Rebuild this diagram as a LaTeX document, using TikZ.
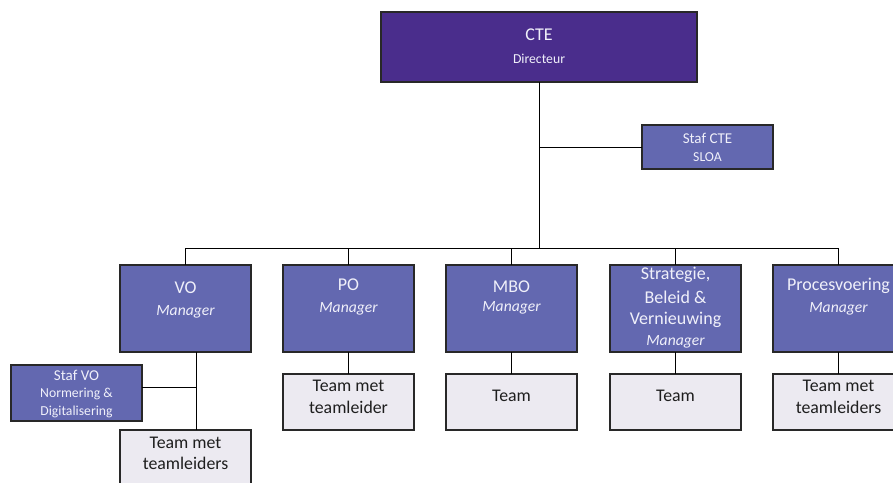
\documentclass[tikz,border=0pt]{standalone}
\usepackage{fontspec}
\setmainfont{Carlito}
\definecolor{ctefill}{RGB}{74,45,140}
\definecolor{mgrfill}{RGB}{99,104,176}
\definecolor{teamfill}{RGB}{236,234,241}
\definecolor{lighttext}{RGB}{240,240,250}
\definecolor{darktext}{RGB}{30,30,30}
\definecolor{edge}{RGB}{40,40,40}
\tikzset{
  box/.style={draw=edge, line width=1.1pt, minimum width=131pt, inner sep=0pt, outer sep=0pt},
  topbox/.style={box, fill=ctefill, minimum width=316pt, minimum height=70pt},
  mgrbox/.style={box, fill=mgrfill, minimum height=87pt},
  stafbox/.style={box, fill=mgrfill, minimum height=44pt},
  stafvobox/.style={box, fill=mgrfill, minimum height=56pt},
  teambox/.style={box, fill=teamfill, minimum height=56pt},
  wt/.style={text=lighttext, inner sep=0pt},
  dt/.style={text=darktext, inner sep=0pt},
  big/.style={font=\fontsize{18}{21}\selectfont},
  mgr/.style={font=\fontsize{15.6}{18}\selectfont\itshape},
  mid/.style={font=\fontsize{15}{18}\selectfont},
  small/.style={font=\fontsize{13.7}{16}\selectfont},
  team/.style={font=\fontsize{17.8}{21}\selectfont},
  conn/.style={draw=black, line width=1pt}
}
\begin{document}
\begin{tikzpicture}[x=1pt,y=-1pt]
\useasboundingbox (0,0) rectangle (893,482);
\clip (0,0) rectangle (893,482);
% boxes
\node[topbox] (cte) at (539,47) {};
\node[stafbox] (sc) at (707.5,147) {};
\node[mgrbox] (vo) at (185.5,308.5) {};
\node[mgrbox] (po) at (348.5,308.5) {};
\node[mgrbox] (mbo) at (511.5,308.5) {};
\node[mgrbox] (sbv) at (675.5,308.5) {};
\node[mgrbox] (pv) at (838.5,308.5) {};
\node[stafvobox] (svo) at (76.5,393) {};
\node[teambox] (tvo) at (185.5,458) {};
\node[teambox] (tpo) at (348.5,402) {};
\node[teambox] (tmbo) at (511.5,402) {};
\node[teambox] (tsbv) at (675.5,402) {};
\node[teambox] (tpv) at (838.5,402) {};
% connectors
\coordinate (busy) at (0,248);
\coordinate (vob) at (196,352);
\coordinate (svy) at (0,387);
\begin{scope}[on background layer/.style={}]
\end{scope}
\draw[conn] (cte.south) -- (cte.south |- busy);
\draw[conn] (sc.west) -- (sc.west -| cte.south);
\draw[conn] (vo.north) -- (vo.north |- busy) -- (pv.north |- busy) -- (pv.north);
\draw[conn] (po.north) -- (po.north |- busy);
\draw[conn] (mbo.north) -- (mbo.north |- busy);
\draw[conn] (sbv.north) -- (sbv.north |- busy);
\draw[conn] (vob) -- (vob |- tvo.north);
\draw[conn] (svo.east |- svy) -- (vob |- svy);
\draw[conn] (po.south) -- (tpo.north);
\draw[conn] (mbo.south) -- (tmbo.north);
\draw[conn] (sbv.south) -- (tsbv.north);
\draw[conn] (pv.south) -- (tpv.north);
% texts
\node[wt,big] (cte1) at (539,35) {CTE};
\node[wt,small] (cte2) at (539,59) {Directeur};
\node[wt,mid] (sc1) at (707.5,138) {Staf CTE};
\node[wt,small] (sc2) at (707.5,157) {SLOA};
\node[wt,big] (vo1) at (185.5,288) {VO};
\node[wt,mgr] (vo2) at (185.5,312) {Manager};
\node[wt,big] (po1) at (348.5,285) {PO};
\node[wt,mgr] (po2) at (348.5,309) {Manager};
\node[wt,big] (mbo1) at (511.5,287) {MBO};
\node[wt,mgr] (mbo2) at (511.5,308) {Manager};
\node[wt,big] (sbv1) at (675.5,275) {Strategie,};
\node[wt,big] (sbv2) at (675.5,297) {Beleid \&};
\node[wt,big] (sbv3) at (675.5,320) {Vernieuwing};
\node[wt,mgr] (sbv4) at (675.5,342) {Manager};
\node[wt,big] (pv1) at (838.5,286) {Procesvoering};
\node[wt,mgr] (pv2) at (838.5,309) {Manager};
\node[wt,mid] (svo1) at (76.5,375) {Staf VO};
\node[wt,small] (svo2) at (76.5,394) {Normering \&};
\node[wt,small] (svo3) at (76.5,412) {Digitalisering};
\node[dt,team] (tvo1) at (185.5,443) {Team met};
\node[dt,team] (tvo2) at (185.5,463) {teamleiders};
\node[dt,team] (tpo1) at (348.5,386) {Team met};
\node[dt,team] (tpo2) at (348.5,407) {teamleider};
\node[dt,team] (tmbo1) at (511.5,396) {Team};
\node[dt,team] (tsbv1) at (675.5,396) {Team};
\node[dt,team] (tpv1) at (838.5,386) {Team met};
\node[dt,team] (tpv2) at (838.5,407) {teamleiders};
\end{tikzpicture}
\end{document}
